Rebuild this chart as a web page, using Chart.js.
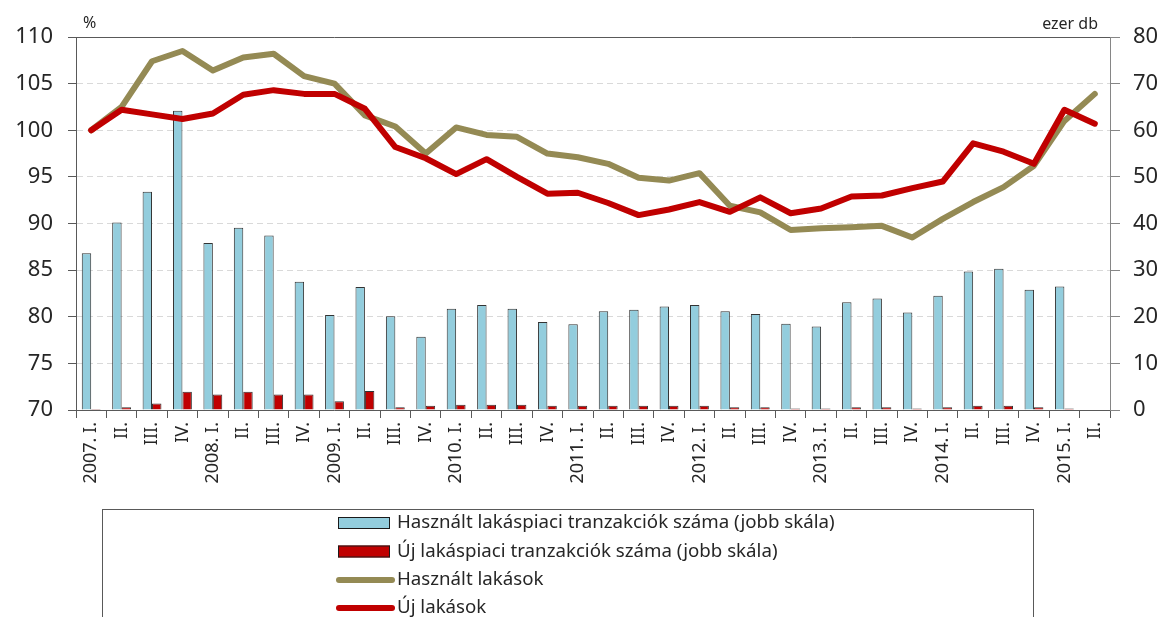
<!DOCTYPE html>
<html>
<head>
<meta charset="utf-8">
<script src="https://cdn.jsdelivr.net/npm/chart.js@4.4.1/dist/chart.umd.min.js"></script>
<style>
  html, body { margin: 0; padding: 0; background: #fff; }
  #wrap { width: 1166px; height: 617px; }
</style>
</head>
<body>
<div id="wrap"><canvas id="chart" width="1166" height="617"></canvas></div>
<script>
const quarterLabels = [
  '2007. I.', 'II.', 'III.', 'IV.',
  '2008. I.', 'II.', 'III.', 'IV.',
  '2009. I.', 'II.', 'III.', 'IV.',
  '2010. I.', 'II.', 'III.', 'IV.',
  '2011. I.', 'II.', 'III.', 'IV.',
  '2012. I.', 'II.', 'III.', 'IV.',
  '2013. I.', 'II.', 'III.', 'IV.',
  '2014. I.', 'II.', 'III.', 'IV.',
  '2015. I.', 'II.'
];

// ezer db (right scale)
const usedTransactions = [
  33.6, 40.2, 46.8, 64.2, 35.8, 39.1, 37.4, 27.5, 20.4, 26.4, 20.1, 15.7,
  21.7, 22.5, 21.7, 18.9, 18.4, 21.2, 21.5, 22.2, 22.5, 21.2, 20.6, 18.5,
  17.9, 23.1, 23.9, 20.9, 24.5, 29.7, 30.3, 25.8, 26.5, null
];
const newTransactions = [
  0.2, 0.6, 1.4, 3.9, 3.3, 3.9, 3.3, 3.3, 1.9, 4.1, 0.6, 0.9,
  1.1, 1.1, 1.1, 0.9, 0.9, 0.9, 0.9, 0.9, 0.9, 0.6, 0.6, 0.3,
  0.3, 0.6, 0.6, 0.3, 0.6, 0.9, 0.9, 0.6, 0.3, null
];

// % (left scale)
const usedPrices = [
  100, 102.5, 107.4, 108.5, 106.4, 107.8, 108.2, 105.8, 105.0, 101.6, 100.4, 97.5,
  100.3, 99.5, 99.3, 97.5, 97.1, 96.4, 94.9, 94.6, 95.4, 91.9, 91.2, 89.3,
  89.5, 89.6, 89.75, 88.5, 90.5, 92.3, 93.9, 96.2, 101.0, 103.9
];
const newPrices = [
  100, 102.2, 101.7, 101.2, 101.8, 103.8, 104.3, 103.9, 103.9, 102.3, 98.2, 97.0,
  95.3, 96.9, 95.0, 93.2, 93.3, 92.2, 90.9, 91.5, 92.3, 91.25, 92.8, 91.1,
  91.6, 92.9, 93.0, 93.8, 94.5, 98.6, 97.7, 96.4, 102.2, 100.7
];

const leftUnit = '%';
const rightUnit = 'ezer db';

const FONT = "'Noto Sans', sans-serif";
const TEXT = '#262626';
const AXIS = '#595959';

const usedBarColor = '#93CDDD';
const newColor = '#C00000';
const usedLineColor = '#948A54';

// titles above the axes, top border and the boxed legend below
const extras = {
  id: 'extras',
  afterDraw(chart) {
    const {ctx, chartArea} = chart;
    ctx.save();

    ctx.strokeStyle = AXIS;
    ctx.lineWidth = 1;
    ctx.beginPath();
    ctx.moveTo(chartArea.left, chartArea.top + 0.5);
    ctx.lineTo(chartArea.right, chartArea.top + 0.5);
    ctx.stroke();

    ctx.fillStyle = TEXT;
    ctx.font = `16px ${FONT}`;
    ctx.textBaseline = 'middle';
    ctx.textAlign = 'left';
    ctx.fillText(leftUnit, 83, 23);
    ctx.textAlign = 'right';
    ctx.fillText(rightUnit, 1098, 24);

    // legend box
    ctx.strokeStyle = AXIS;
    ctx.strokeRect(102.5, 509.5, 931, 140);

    const rowY = [523, 551.5, 580, 608];
    const patchX = 338, patchW = 52, textX = 397;
    ctx.font = `18.7px ${FONT}`;
    ctx.textAlign = 'left';
    chart.data.datasets.forEach((ds, i) => {
      const y = rowY[i];
      if (ds.type === 'bar') {
        ctx.fillStyle = ds.backgroundColor;
        ctx.fillRect(patchX, y - 6, patchW, 12);
        ctx.strokeStyle = '#1a1a1a';
        ctx.strokeRect(patchX + 0.5, y - 5.5, patchW - 1, 11);
      } else {
        ctx.strokeStyle = ds.borderColor;
        ctx.lineWidth = 6;
        ctx.lineCap = 'round';
        ctx.beginPath();
        ctx.moveTo(patchX + 1, y);
        ctx.lineTo(patchX + patchW + 2, y);
        ctx.stroke();
        ctx.lineWidth = 1;
      }
      ctx.fillStyle = TEXT;
      ctx.fillText(ds.label, textX, y);
    });
    ctx.restore();
  }
};

new Chart(document.getElementById('chart'), {
  type: 'bar',
  data: {
    labels: quarterLabels,
    datasets: [
      {
        type: 'bar',
        label: 'Használt lakáspiaci tranzakciók száma (jobb skála)',
        data: usedTransactions,
        yAxisID: 'y1',
        backgroundColor: usedBarColor,
        borderColor: '#333333',
        borderWidth: 1,
        categoryPercentage: 0.62,
        barPercentage: 1,
        order: 2
      },
      {
        type: 'bar',
        label: 'Új lakáspiaci tranzakciók száma (jobb skála)',
        data: newTransactions,
        yAxisID: 'y1',
        backgroundColor: newColor,
        borderColor: '#333333',
        borderWidth: 1,
        categoryPercentage: 0.62,
        barPercentage: 1,
        order: 3
      },
      {
        type: 'line',
        label: 'Használt lakások',
        data: usedPrices,
        yAxisID: 'y',
        borderColor: usedLineColor,
        borderWidth: 6,
        pointRadius: 0,
        tension: 0,
        borderCapStyle: 'round',
        borderJoinStyle: 'round',
        order: 1
      },
      {
        type: 'line',
        label: 'Új lakások',
        data: newPrices,
        yAxisID: 'y',
        borderColor: newColor,
        borderWidth: 6,
        pointRadius: 0,
        tension: 0,
        borderCapStyle: 'round',
        borderJoinStyle: 'round',
        order: 0
      }
    ]
  },
  options: {
    responsive: false,
    animation: false,
    devicePixelRatio: 1,
    layout: { padding: { top: 37, left: 0, right: 0, bottom: 0 } },
    plugins: {
      legend: { display: false },
      tooltip: { enabled: false }
    },
    scales: {
      x: {
        offset: true,
        grid: {
          offset: true,
          drawOnChartArea: false,
          drawTicks: true,
          tickLength: 8,
          color: AXIS
        },
        border: { color: AXIS },
        ticks: {
          autoSkip: false,
          minRotation: 90,
          maxRotation: 90,
          padding: 4,
          color: TEXT,
          font: { family: FONT, size: 18 }
        },
        afterFit(scale) { scale.height = 207; }
      },
      y: {
        position: 'left',
        min: 70,
        max: 110,
        ticks: {
          stepSize: 5,
          padding: 15,
          color: TEXT,
          font: { family: FONT, size: 22 }
        },
        grid: {
          color: '#D9D9D9',
          tickColor: AXIS,
          tickLength: 8,
          tickBorderDash: []
        },
        border: { color: AXIS, dash: [6, 4] },
        afterFit(scale) { scale.width = 76; }
      },
      y1: {
        position: 'right',
        min: 0,
        max: 80,
        ticks: {
          stepSize: 10,
          padding: 13,
          color: TEXT,
          font: { family: FONT, size: 22 }
        },
        grid: {
          drawOnChartArea: false,
          tickColor: '#868686',
          tickLength: 10
        },
        border: { color: '#868686' },
        afterFit(scale) { scale.width = 56; }
      }
    }
  },
  plugins: [extras]
});
</script>
</body>
</html>
